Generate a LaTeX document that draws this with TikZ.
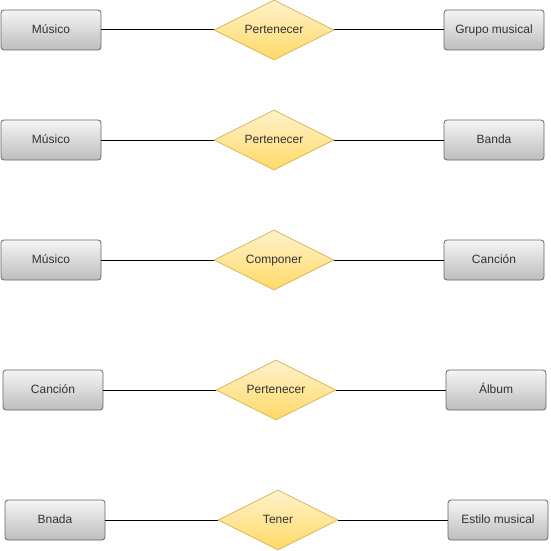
\documentclass[tikz,border=0pt]{standalone}
\usepackage{fontspec}
\setmainfont{Liberation Sans}
\usetikzlibrary{shapes.geometric}
\definecolor{boxtop}{HTML}{F5F5F5}
\definecolor{boxbottom}{HTML}{BDBDBD}
\definecolor{boxline}{HTML}{666666}
\definecolor{reltop}{HTML}{FFF2CC}
\definecolor{relbottom}{HTML}{FFD966}
\definecolor{relline}{HTML}{D6B656}
\definecolor{labelgray}{HTML}{333333}
\tikzset{
    entity/.style={draw=boxline, line width=0.8pt, rounded corners=3pt,
        top color=boxtop, bottom color=boxbottom, text=labelgray,
        minimum width=100pt, minimum height=40pt, inner sep=0pt,
        text height=9pt, text depth=2.5pt},
    relation/.style={diamond, draw=relline, line width=0.8pt,
        top color=reltop, bottom color=relbottom, text=labelgray,
        minimum width=120pt, minimum height=60pt, inner sep=0pt, aspect=2,
        text height=9pt, text depth=2.5pt},
    link/.style={line width=1pt, black}
}
\begin{document}
\begin{tikzpicture}[x=1pt, y=-1pt, font=\fontsize{12}{14}\selectfont]
            \useasboundingbox (0,0) rectangle (550,551);

            % Musico - Pertenecer - Grupo musical
            \node [entity] (musicoA) at (51,30) {Músico};
            \node [relation] (perA) at (274,30) {Pertenecer};
            \node [entity] (grupo) at (494,30) {Grupo musical};
            \draw [link] (musicoA) -- (perA);
            \draw [link] (perA) -- (grupo);

            % Musico - Pertenecer - Banda
            \node [entity] (musicoB) at (51,140) {Músico};
            \node [relation] (perB) at (274,140) {Pertenecer};
            \node [entity] (banda) at (494,140) {Banda};
            \draw [link] (musicoB) -- (perB);
            \draw [link] (perB) -- (banda);

            % Musico - Componer - Cancion
            \node [entity] (musicoC) at (51,260) {Músico};
            \node [relation] (componer) at (274,260) {Componer};
            \node [entity] (cancionA) at (494,260) {Canción};
            \draw [link] (musicoC) -- (componer);
            \draw [link] (componer) -- (cancionA);

            % Cancion - Pertenecer - Album
            \node [entity] (cancionB) at (53,390) {Canción};
            \node [relation] (perC) at (276,390) {Pertenecer};
            \node [entity] (album) at (496,390) {Álbum};
            \draw [link] (cancionB) -- (perC);
            \draw [link] (perC) -- (album);

            % Bnada - Tener - Estilo musical
            \node [entity] (bnada) at (55,520) {Bnada};
            \node [relation] (tener) at (278,520) {Tener};
            \node [entity] (estilo) at (498,520) {Estilo musical};
            \draw [link] (bnada) -- (tener);
            \draw [link] (tener) -- (estilo);
\end{tikzpicture}
\end{document}
